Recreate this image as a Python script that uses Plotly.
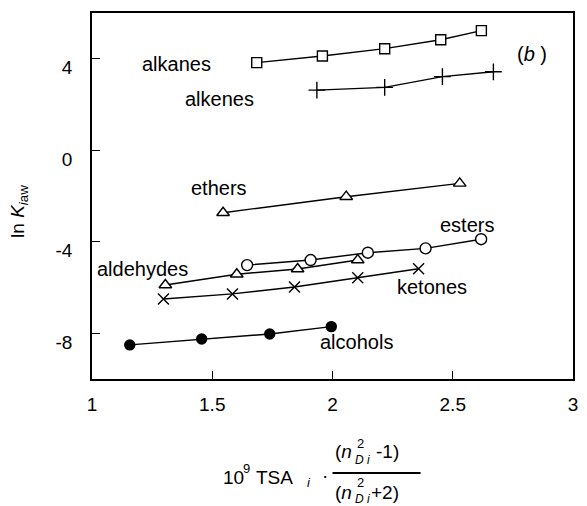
import plotly.graph_objects as go

# ---- data ----
alkanes_x = [1.685, 1.958, 2.217, 2.450, 2.619]
alkanes_y = [3.83, 4.12, 4.44, 4.83, 5.23]
alkenes_x = [1.935, 2.217, 2.457, 2.669]
alkenes_y = [2.63, 2.75, 3.22, 3.43]
ethers_x = [1.545, 2.057, 2.529]
ethers_y = [-2.73, -2.03, -1.45]
esters_x = [1.645, 1.909, 2.147, 2.387, 2.618]
esters_y = [-5.02, -4.80, -4.48, -4.29, -3.89]
aldehydes_x = [1.305, 1.602, 1.855, 2.105]
aldehydes_y = [-5.89, -5.42, -5.19, -4.80]
ketones_x = [1.297, 1.584, 1.842, 2.105, 2.358]
ketones_y = [-6.50, -6.28, -5.98, -5.57, -5.18]
alcohols_x = [1.157, 1.456, 1.739, 1.995]
alcohols_y = [-8.51, -8.25, -8.03, -7.71]

x_ticks = [1, 1.5, 2, 2.5, 3]
x_ticklabels = ["1", "1.5", "2", "2.5", "3"]
y_ticks = [-8, -4, 0, 4]
y_ticklabels = ["-8", "-4", "0", "4"]

group_labels = ["alkanes", "alkenes", "ethers", "esters", "aldehydes", "ketones", "alcohols"]
label_x = [1.352, 1.530, 1.530, 2.559, 1.212, 2.413, 2.101]
label_y = [3.77, 2.23, -1.64, -3.27, -5.20, -5.96, -8.38]

FONT = "Liberation Sans, Arial, Helvetica, sans-serif"
W, H = 587, 506
ML, MR, MT, MB = 92, 9, 13, 127
PW, PH = W - ML - MR, H - MT - MB


def px(xp):
    return (xp - ML) / PW


def py(yp):
    return (H - MB - yp) / PH


fig = go.Figure()

series = [
    (alkanes_x, alkanes_y, "square", "white", 10),
    (alkenes_x, alkenes_y, "cross-thin", "black", 12),
    (ethers_x, ethers_y, "triangle-up", "white", 11),
    (esters_x, esters_y, "circle", "white", 11),
    (aldehydes_x, aldehydes_y, "triangle-up", "white", 11),
    (ketones_x, ketones_y, "x-thin", "black", 11),
    (alcohols_x, alcohols_y, "circle", "black", 10),
]
for xs, ys, sym, fill, size in series:
    fig.add_trace(go.Scatter(
        x=xs, y=ys, mode="lines+markers",
        line=dict(color="black", width=1.4),
        marker=dict(symbol=sym, size=size, color=fill,
                    line=dict(color="black", width=1.4)),
        showlegend=False, cliponaxis=False,
    ))

annotations = []
for t, xv, yv in zip(group_labels, label_x, label_y):
    annotations.append(dict(x=xv, y=yv, xref="x", yref="y", text=t, showarrow=False,
                            font=dict(family=FONT, size=20, color="black")))
annotations.append(dict(x=2.83, y=4.2, xref="x", yref="y", text="(<i>b</i> )", showarrow=False,
                        font=dict(family=FONT, size=20, color="black")))

# y-axis title
annotations.append(dict(x=px(4), y=py(211), xref="paper", yref="paper", xanchor="left",
                        text="ln <i>K</i><sub><i>i</i>aw</sub>", textangle=-90, showarrow=False,
                        font=dict(family=FONT, size=19, color="black")))

# x-axis title built from pieces
def ann(xp, yp, text, size, xanchor):
    annotations.append(dict(x=px(xp), y=py(yp), xref="paper", yref="paper", text=text,
                            showarrow=False, xanchor=xanchor, yanchor="middle",
                            font=dict(family=FONT, size=size, color="black")))

ann(222, 477, "10", 19, "left")
ann(243, 468, "9", 13, "left")
ann(256, 477, "TSA", 19, "left")
ann(307, 482, "<i>i</i>", 13, "left")
ann(322, 475, "·", 19, "left")
# numerator
ann(357, 452, "(<i>n</i>", 19, "right")
ann(358, 443, "2", 13, "left")
ann(356, 460, "<i>D i</i>", 12, "left")
ann(377, 452, "-1)", 19, "left")
# denominator
ann(357, 492, "(<i>n</i>", 19, "right")
ann(358, 483, "2", 13, "left")
ann(356, 499, "<i>D i</i>", 12, "left")
ann(372, 492, "+2)", 19, "left")

shapes = [dict(type="line", xref="paper", yref="paper", x0=px(335), x1=px(424),
               y0=py(473), y1=py(473), line=dict(color="black", width=2.2))]

fig.update_layout(
    width=W, height=H, autosize=False,
    margin=dict(l=ML, r=MR, t=MT, b=MB),
    paper_bgcolor="white", plot_bgcolor="white",
    annotations=annotations, shapes=shapes,
    font=dict(family=FONT, size=19, color="black"),
)
fig.update_xaxes(range=[1, 3], tickvals=x_ticks, ticktext=x_ticklabels,
                 ticks="inside", ticklen=8, tickwidth=1.3, tickcolor="black",
                 showline=True, linecolor="black", linewidth=1.5, mirror=True,
                 showgrid=False, zeroline=False, ticklabelstandoff=7,
                 tickfont=dict(family=FONT, size=19, color="black"))
fig.update_yaxes(range=[-10, 6], tickvals=y_ticks, ticktext=y_ticklabels,
                 ticks="inside", ticklen=8, tickwidth=1.3, tickcolor="black",
                 showline=True, linecolor="black", linewidth=1.5, mirror=True,
                 showgrid=False, zeroline=False, ticklabelstandoff=14, ticklabelshift=9,
                 tickfont=dict(family=FONT, size=19, color="black"))

fig.write_html("out.html", config={"displayModeBar": False},
               post_script="document.body.style.margin='0';document.body.style.padding='0';")
